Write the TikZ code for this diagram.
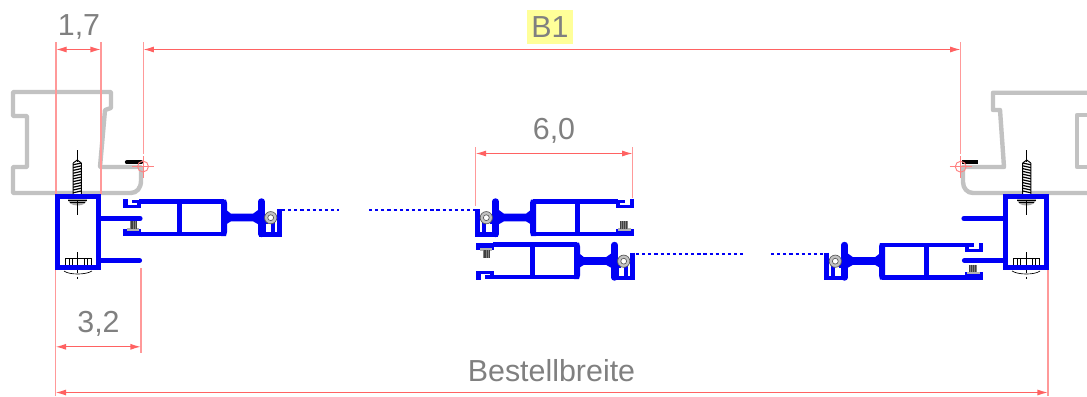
\documentclass[tikz,border=0pt]{standalone}
\usepackage{fontspec}
\setmainfont{Liberation Sans}
\usetikzlibrary{arrows.meta}
\definecolor{dimred}{HTML}{FF6262}
\definecolor{profblue}{HTML}{0000F5}
\definecolor{woodgray}{HTML}{C2C2C2}
\definecolor{labelgray}{HTML}{808080}
\definecolor{markyellow}{HTML}{FFFF99}
\tikzset{
  dimline/.style={draw=dimred,line width=1pt,{Latex[length=8pt,width=4.6pt]}-{Latex[length=8pt,width=4.6pt]}},
  extline/.style={draw=dimred!65,line width=0.9pt},
  wood/.style={draw=woodgray,line width=3.3pt,line join=round},
  wall/.style={draw=profblue,line width=3.4pt,line cap=round},
  dimlabel/.style={text=labelgray,font=\fontsize{22.8}{24}\selectfont,inner sep=0pt},
  dotblue/.style={color=profblue,line width=1.5pt,dash pattern=on 2.4pt off 2.2pt},
  hair/.style={draw=black,line width=0.5pt},
  crossmark/.style={draw=dimred!80,line width=0.7pt},
}
% box part of a sash, left-sash coordinates
\newcommand{\sashbox}{%
  \draw[wall,line cap=butt] (139,201.5) -- (224,201.5);
  \draw[wall,line cap=butt] (140,234) -- (224,234);
  \draw[wall,line cap=butt] (223,201) -- (223,234.5);
  \draw[wall,line cap=butt] (179.5,201) -- (179.5,234);
  \fill[profblue] (221,199.5) -- (226,199.5) -- (227,203) -- (227,232) -- (226,236) -- (221,236) -- cycle;
  % T slot
  \fill[profblue] (123,199) rectangle (127.5,208);
  \fill[profblue] (123,205) rectangle (141,208);
  \fill[profblue] (132,199.5) rectangle (141,203.3);
  \fill[profblue] (137,199.5) rectangle (141,208);
  % lower flange with screw
  \fill[profblue] (123,228.5) rectangle (141,236);
  \fill[gray!60!white] (126.5,228) rectangle (139,230.5);
  \fill[gray] (129.5,221) rectangle (137,228.5);
  \foreach \sx in {131,132.8,134.6,136.2}{\draw[hair,draw=black!75] (\sx,221) -- (\sx,228.5);}
}
% web, post, pocket and seal of a sash
\newcommand{\sashpost}{%
  \fill[profblue] (225,209) -- (231,213.7) -- (253,213.7) -- (259.5,209) -- (259.5,225) -- (253,221.3) -- (231,221.3) -- (225,225) -- cycle;
  \draw[wall,line width=4.8pt] (261.5,201.5) -- (261.5,234);
  \draw[wall,line cap=butt] (259,234.3) -- (282,234.3);
  \draw[wall,line cap=butt] (279.7,209.2) -- (279.7,236);
  \fill[profblue] (259,221) rectangle (267.5,234);
  \fill[profblue] (271,221) rectangle (275,234);
  \fill[white] (265.5,224) rectangle (268.5,232);
  \draw[hair,draw=black!65,fill=woodgray] (270.7,217.7) circle[radius=4.6pt];
  \draw[hair,draw=black!65,fill=white] (270.7,217.7) circle[radius=2.2pt];
}
% fixed frame, left-frame coordinates
\newcommand{\framepart}{%
  % long screw
  \draw[hair] (77.7,150) -- (77.7,162);
  \fill[white] (73.2,162) rectangle (81.5,194);
  \draw[hair,line width=0.75pt] (73.2,163) -- (73.2,194) (81.3,163) -- (81.3,194) (73.2,163) -- (77.3,160) -- (81.3,163);
  \foreach \sy in {163,165.8,...,192}{\draw[hair,line width=0.9pt] (73.2,\sy+1.8) -- (81.3,\sy);}
  % screw head
  \fill[gray!70!white] (68,199) -- (87,199) .. controls (87,203) and (83,205.5) .. (77.7,205.5) .. controls (72,205.5) and (68,203) .. (68,199) -- cycle;
  \draw[hair] (68,200) -- (87,200) (77.7,200) -- (77.7,215);
  \draw[hair] (70,202) -- (85,202);
  % bolt
  \draw[hair] (65,266) -- (65,258.5) -- (91,258.5) -- (91,266) (69,258.5) -- (69,266) (87,258.5) -- (87,266) (72,258.5) -- (72,266) (84,258.5) -- (84,266);
  \draw[hair] (77.7,252) -- (77.7,268);
  \draw[hair] (64,271) .. controls (69,275) and (86,275) .. (92,271);
  \draw[hair,dash pattern=on 2pt off 3pt] (77.7,270) -- (77.7,280);
  % profile
  \draw[wall,line cap=butt,line join=miter,line width=3.9pt] (57.6,196.6) rectangle (98.8,267.4);
  \draw[wall,line width=3.9pt] (99,218.5) -- (140,218.5);
  \draw[wall,line width=3.9pt] (99,260.5) -- (139.5,260.5);
}
\newcommand{\crosshair}[2]{%
  \draw[crossmark] (#1,#2) circle[radius=4.1pt];
  \draw[crossmark] (#1-11,#2) -- (#1+11,#2) (#1,#2-11) -- (#1,#2+11);
}
\begin{document}
\begin{tikzpicture}[x=0.75pt,y=-0.75pt]
\useasboundingbox (0,0) rectangle (1087,396);
% wood
\draw[wood,rounded corners=0.5pt] (13,92) -- (111,92) -- (111,108) -- (105,110) -- (100,167) -- (125,167) -- (141,167) -- (141,180)
   .. controls (141,188) and (137,193) .. (130,193) -- (13,193) -- (13,167) -- (27,167) -- (27,116) -- (13,116) -- cycle;
\draw[wood] (1087,92.7) -- (993,92.7) -- (993,110) -- (1000,110) -- (1004,167) -- (963,167) -- (963,182)
   .. controls (963,188) and (967,193) .. (973,193) -- (1087,193);
\draw[wood] (1087,115) -- (1077,115) -- (1077,167) -- (1087,167);
% seals
\draw[line width=3.2pt,line cap=round] (127,162.2) -- (141,162.2);
\draw[line width=3.4pt] (962,162) -- (978,162);
% frames
\framepart
\begin{scope}[shift={(1104,0)},xscale=-1]\framepart\end{scope}
% sashes
\sashbox\sashpost
\begin{scope}[shift={(757,0)},xscale=-1]\sashbox\sashpost\end{scope}
\begin{scope}[shift={(353,43.5)}]\sashpost\begin{scope}[shift={(0,435)},yscale=-1]\sashbox\end{scope}\end{scope}
\begin{scope}[shift={(1106,43.5)},xscale=-1]\sashbox\sashpost\end{scope}
% dotted
\coordinate (d1a) at (282,209.5); \coordinate (d1b) at (339,209.5);
\coordinate (d2a) at (369,209.5); \coordinate (d2b) at (476,209.5);
\coordinate (d3a) at (636,253.5); \coordinate (d3b) at (745,253.5);
\coordinate (d4a) at (771,253.5); \coordinate (d4b) at (825,253.5);
\draw[dotblue] (d1a) -- (d1b); \draw[dotblue] (d2a) -- (d2b);
\draw[dotblue] (d3a) -- (d3b); \draw[dotblue] (d4a) -- (d4b);
% extension lines
\coordinate (a) at (56,42);   \coordinate (a2) at (56,194);
\coordinate (b) at (101,42);  \coordinate (b2) at (101,194);
\coordinate (c) at (143.3,42); \coordinate (c2) at (143.3,154);
\coordinate (e) at (960.7,42); \coordinate (e2) at (960.7,154);
\coordinate (f) at (475.5,147); \coordinate (f2) at (475.5,206);
\coordinate (g) at (632.7,147); \coordinate (g2) at (632.7,198);
\coordinate (h) at (55.5,270); \coordinate (h2) at (55.5,396);
\coordinate (i) at (141,268); \coordinate (i2) at (141,353);
\coordinate (j) at (1048,270); \coordinate (j2) at (1048,396);
\foreach \p/\q in {a/a2,b/b2,c/c2,e/e2,f/f2,g/g2,h/h2,i/i2,j/j2}{\draw[extline] (\p) -- (\q);}
% dimensions
\coordinate (m1) at (56,49.5); \coordinate (m2) at (101,49.5);
\coordinate (m3) at (143.3,49.5); \coordinate (m4) at (960.7,49.5);
\coordinate (m5) at (475.5,153.5); \coordinate (m6) at (632.7,153.5);
\coordinate (m7) at (55.5,346.8); \coordinate (m8) at (141,346.8);
\coordinate (m9) at (55.5,392.5); \coordinate (m10) at (1048,392.5);
\draw[dimline] (m1) -- (m2);
\draw[dimline] (m3) -- (m4);
\draw[dimline] (m5) -- (m6);
\draw[dimline] (m7) -- (m8);
\draw[dimline] (m9) -- (m10);
% centre marks
\crosshair{143}{166.5}
\crosshair{960.7}{166.7}
% labels
\node[dimlabel] (l1) at (79,27) {1,7};
\node[fill=markyellow,minimum width=34.5pt,minimum height=25.5pt,inner sep=0pt] (lb) at (550,27) {};
\node[dimlabel] (l2) at (lb) {B1};
\node[dimlabel] (l3) at (554,130.5) {6,0};
\node[dimlabel] (l4) at (98.5,323.5) {3,2};
\node[dimlabel] (l5) at (551.5,371) {Bestellbreite};
\end{tikzpicture}
\end{document}
